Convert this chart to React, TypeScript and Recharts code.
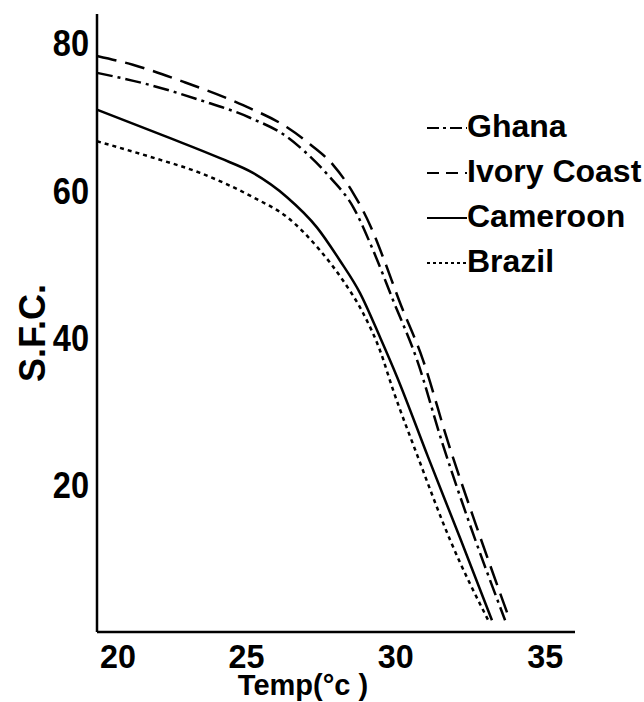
import { Legend, Line, LineChart, XAxis, YAxis } from 'recharts';

// readings taken off the published curves (temperature in °C, solid fat content %)
const ghanaTemp = [20, 21.54, 23.45, 25.12, 26.36, 26.9, 27.8, 28.57, 29.24, 29.91, 30.71, 31.55, 32.49, 33.66];
const ghanaSfc = [76.0, 74.6, 72.3, 69.9, 67.3, 65.5, 61.8, 57.8, 51.9, 45.1, 37.0, 25.8, 14.5, 1.6];

const ivoryCoastTemp = [20, 21.2, 22.88, 24.89, 26.36, 27.13, 27.9, 28.57, 29.14, 29.57, 30.11, 30.91, 31.75, 32.69, 33.82];
const ivoryCoastSfc = [78.3, 77.1, 74.8, 71.6, 68.6, 66.3, 63.5, 59.7, 55.3, 51.0, 45.1, 37.0, 25.8, 14.5, 1.6];

const cameroonTemp = [20, 22.34, 24.12, 25.22, 26.36, 27.36, 28.13, 28.8, 29.47, 30.04, 31.08, 32.15, 33.22];
const cameroonSfc = [71.0, 67.3, 64.4, 62.4, 59.1, 55.0, 50.5, 46.1, 40.1, 34.7, 23.8, 12.8, 1.6];

const brazilTemp = [20, 21.77, 23.45, 25.22, 26.36, 27.46, 28.23, 28.9, 29.47, 29.91, 30.74, 31.82, 33.12];
const brazilSfc = [66.7, 64.6, 62.4, 59.1, 56.4, 51.9, 47.8, 43.4, 38.3, 32.9, 23.8, 12.5, 1.4];

const xTicks = [20, 25, 30, 35];
const yTicks = [20, 40, 60, 80];

const FONT = '"Liberation Sans", Arial, sans-serif';

type Point = { temp: number; sfc: number };

const zip = (temps: number[], values: number[]): Point[] =>
  temps.map((temp, i) => ({ temp, sfc: values[i] }));

type Series = {
  name: string;
  data: Point[];
  dash?: string;
  legendDash?: string;
};

const series: Series[] = [
  { name: 'Ghana', data: zip(ghanaTemp, ghanaSfc), dash: '16 5 3 5', legendDash: '12 4 3 4' },
  { name: 'Ivory Coast', data: zip(ivoryCoastTemp, ivoryCoastSfc), dash: '20 9', legendDash: '12 7' },
  { name: 'Cameroon', data: zip(cameroonTemp, cameroonSfc) },
  { name: 'Brazil', data: zip(brazilTemp, brazilSfc), dash: '4 4', legendDash: '3 3' },
];

function XTick({ x, y, payload, index }: any) {
  // first label sits to the right of the corner, like the original
  const first = index === 0;
  return (
    <g transform={`translate(${first ? x + 3 : x},${y + 28}) scale(0.95,1)`}>
      <text
        x={0}
        y={0}
        textAnchor={first ? 'start' : 'middle'}
        fontFamily={FONT}
        fontWeight="bold"
        fontSize={34}
        fill="#000"
      >
        {payload.value}
      </text>
    </g>
  );
}

function YTick({ x, y, payload }: any) {
  return (
    <g transform={`translate(${x},${y + 13}) scale(0.88,1)`}>
      <text x={0} y={0} textAnchor="end" fontFamily={FONT} fontWeight="bold" fontSize={37} fill="#000">
        {payload.value}
      </text>
    </g>
  );
}

function SfcLabel({ viewBox }: any) {
  const cx = viewBox.x + 45;
  const cy = viewBox.y + viewBox.height / 2 + 10;
  return (
    <text
      x={cx}
      y={cy}
      transform={`rotate(-90, ${cx}, ${cy})`}
      textAnchor="middle"
      fontFamily={FONT}
      fontWeight="bold"
      fontSize={36}
      fill="#000"
    >
      S.F.C.
    </text>
  );
}

function TempLabel({ viewBox }: any) {
  return (
    <text
      x={viewBox.x + 206}
      y={viewBox.y + 63}
      textAnchor="middle"
      fontFamily={FONT}
      fontWeight="bold"
      fontSize={29}
      fill="#000"
    >
      Temp(°c )
    </text>
  );
}

function KeyList() {
  return (
    <div style={{ fontFamily: FONT, fontWeight: 'bold', fontSize: 32, color: '#000' }}>
      {series.map((s) => (
        <div key={s.name} style={{ display: 'flex', alignItems: 'center', height: 45, whiteSpace: 'nowrap' }}>
          <svg width={40} height={10} style={{ marginTop: 2 }}>
            <line x1={0} y1={5} x2={40} y2={5} stroke="#000" strokeWidth={2} strokeDasharray={s.legendDash} />
          </svg>
          <span>{s.name}</span>
        </div>
      ))}
    </div>
  );
}

export default function App() {
  return (
    <div style={{ position: 'absolute', left: 0, top: 0, background: '#fff' }}>
      <LineChart width={644} height={702} margin={{ top: 14, right: 69, bottom: 0, left: 0 }}>
        <XAxis
          type="number"
          dataKey="temp"
          domain={[20, 36]}
          ticks={xTicks}
          allowDuplicatedCategory={false}
          height={70}
          tickLine={false}
          axisLine={{ stroke: '#000', strokeWidth: 2.5 }}
          tick={<XTick />}
          label={<TempLabel />}
        />
        <YAxis
          type="number"
          dataKey="sfc"
          domain={[0, 84]}
          ticks={yTicks}
          width={97}
          tickLine={false}
          axisLine={{ stroke: '#000', strokeWidth: 2.5 }}
          tick={<YTick />}
          label={<SfcLabel />}
        />
        <Legend
          layout="horizontal"
          verticalAlign="middle"
          align="center"
          content={<KeyList />}
          wrapperStyle={{ position: 'absolute', left: 427, top: 104, width: 217 }}
        />
        {series.map((s) => (
          <Line
            key={s.name}
            name={s.name}
            data={s.data}
            dataKey="sfc"
            type="monotone"
            stroke="#000"
            strokeWidth={2.5}
            strokeDasharray={s.dash}
            dot={false}
            activeDot={false}
            isAnimationActive={false}
          />
        ))}
      </LineChart>
    </div>
  );
}
